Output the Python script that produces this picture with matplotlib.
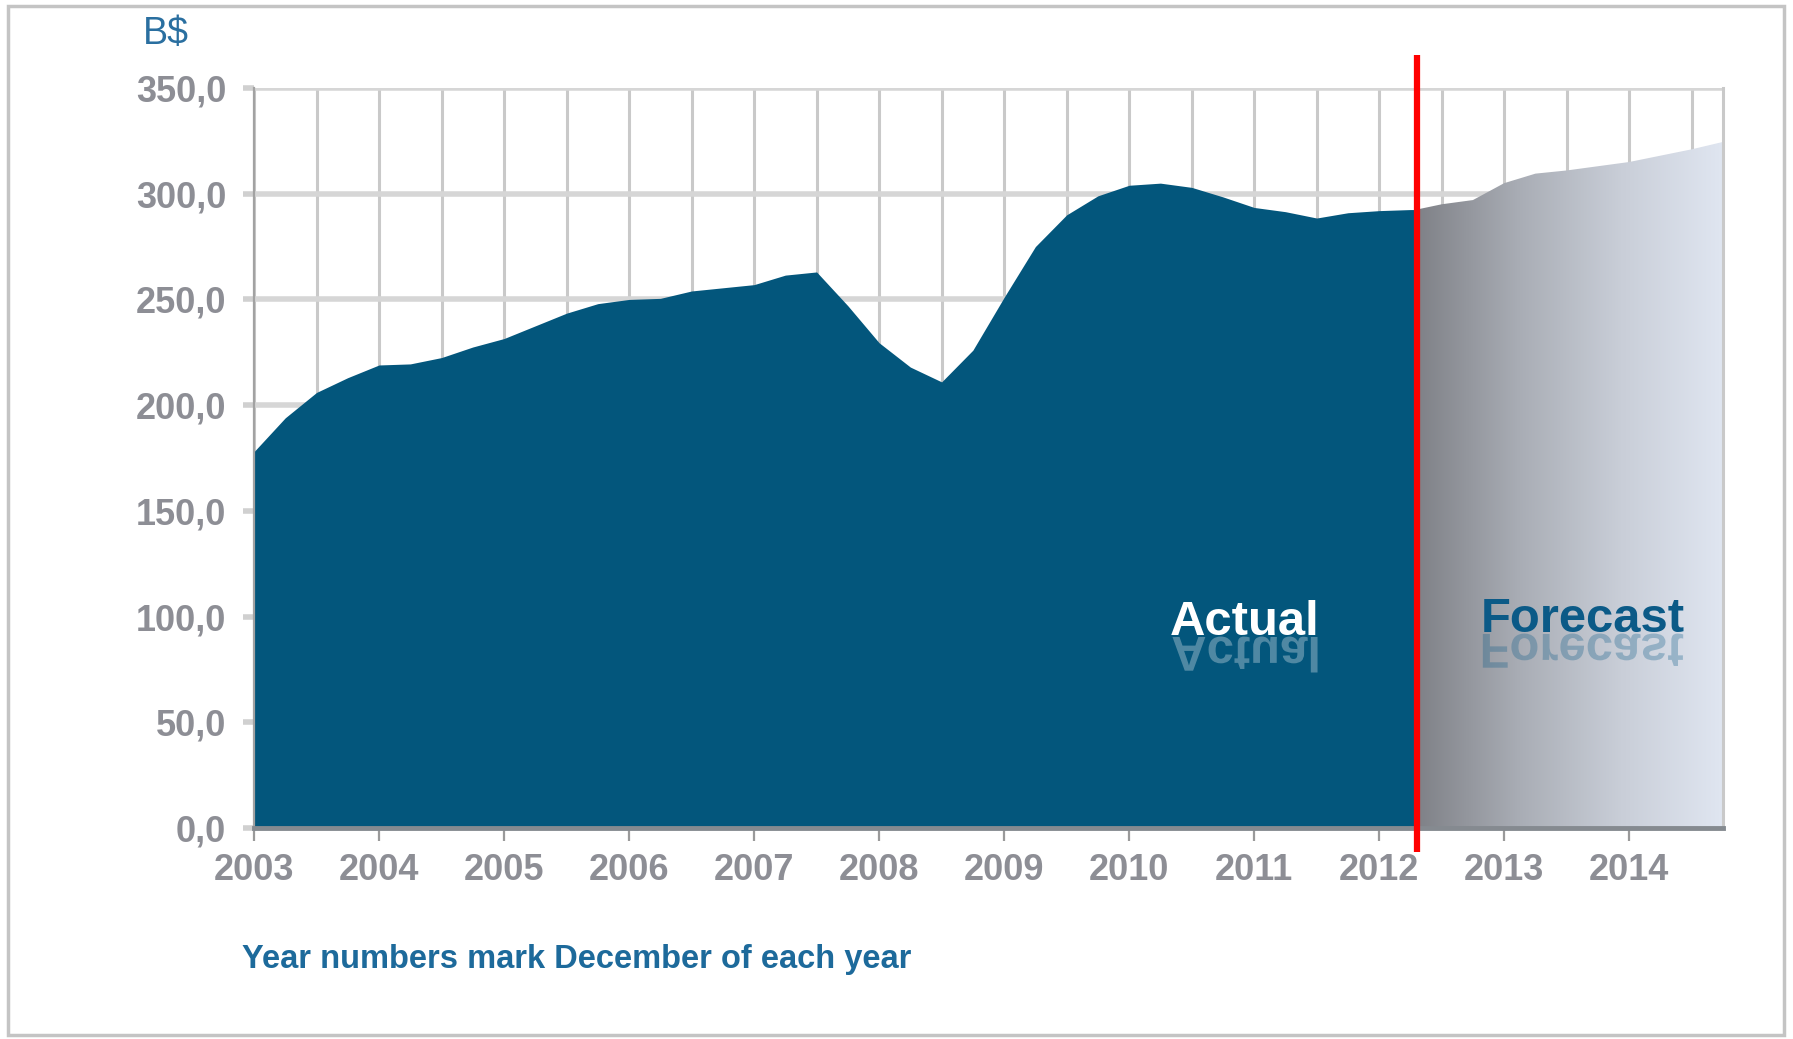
import matplotlib
matplotlib.use("Agg")
import matplotlib.pyplot as plt
import numpy as np
from matplotlib.colors import LinearSegmentedColormap
from matplotlib.font_manager import FontProperties
from matplotlib.patches import PathPatch, Rectangle
from matplotlib.textpath import TextPath
from matplotlib.transforms import Affine2D, blended_transform_factory

plt.rcParams["font.family"] = ["Liberation Sans", "DejaVu Sans"]

# Actual values (B$), quarterly, year numbers mark December
actual_x = [2003.0, 2003.25, 2003.5, 2003.75, 2004.0, 2004.25, 2004.5, 2004.75,
            2005.0, 2005.25, 2005.5, 2005.75, 2006.0, 2006.25, 2006.5, 2006.75,
            2007.0, 2007.25, 2007.5, 2007.75, 2008.0, 2008.25, 2008.5, 2008.75,
            2009.0, 2009.25, 2009.5, 2009.75, 2010.0, 2010.25, 2010.5, 2010.75,
            2011.0, 2011.25, 2011.5, 2011.75, 2012.0, 2012.25, 2012.3]
actual_y = [178, 194, 206, 213, 219, 219.5, 222.5, 227.5,
            231.5, 237.5, 243.5, 248, 250, 250.5, 254, 255.5,
            257, 261.5, 263, 247, 229.5, 218, 211, 226,
            251, 275, 290, 299, 304, 305, 303, 298.5,
            293.5, 291.5, 288.5, 291, 292, 292.5, 292.5]

forecast_x = [2012.3, 2012.5, 2012.75, 2013.0, 2013.25, 2013.5, 2013.75,
              2014.0, 2014.25, 2014.5, 2014.75]
forecast_y = [292.5, 295, 297, 305, 309.5, 311, 313, 315, 318, 321, 324.5]

split_year = 2012.3
year_ticks = [2003, 2004, 2005, 2006, 2007, 2008, 2009, 2010, 2011, 2012, 2013, 2014]
y_ticks = [0, 50, 100, 150, 200, 250, 300, 350]
y_labels = ["0,0", "50,0", "100,0", "150,0", "200,0", "250,0", "300,0", "350,0"]

W, H = 1793, 1039
fig = plt.figure(figsize=(W / 100, H / 100), dpi=100)
fig.patch.set_facecolor("white")
ax = fig.add_axes([254 / W, 1 - 828 / H, (1723 - 254) / W, (828 - 88) / H])

ax.set_xlim(2003, 2014.75)
ax.set_ylim(0, 350)

# actual area
ax.fill_between(actual_x, actual_y, 0, color="#03567c", lw=0, zorder=2)

# forecast area with horizontal gradient
poly = ax.fill_between(forecast_x, forecast_y, 0, facecolor="none", lw=0, zorder=2)
cmap = LinearSegmentedColormap.from_list("fc", ["#7f8187", "#a9adb5", "#c9ced8", "#e0e6f1"])
grad = np.linspace(0, 1, 256).reshape(1, -1)
im = ax.imshow(grad, cmap=cmap, aspect="auto", extent=[split_year, 2014.75, 0, 350],
               origin="lower", zorder=2, interpolation="bilinear")
im.set_clip_path(poly.get_paths()[0], ax.transData)

# grid
ax.set_axisbelow(True)
ax.set_yticks(y_ticks)
ax.set_yticklabels(y_labels)
ax.set_xticks(year_ticks)
ax.set_xticklabels([str(y) for y in year_ticks])
ax.set_xticks([y + 0.5 for y in year_ticks], minor=True)
ax.grid(axis="y", color="#d6d6d6", lw=4)
ax.grid(axis="x", which="both", color="#c9c9c9", lw=2.2)

label_color = "#8d8e95"
ax.tick_params(axis="y", which="major", direction="out", length=8, width=4,
               color="#d0d0d0", pad=12, labelsize=26, labelcolor=label_color)
ax.tick_params(axis="x", which="major", direction="out", length=9, width=1.6,
               color="#9a9a9a", pad=9, labelsize=26, labelcolor=label_color)
ax.tick_params(axis="x", which="minor", length=0)
for lab in ax.get_xticklabels() + ax.get_yticklabels():
    lab.set_fontweight("bold")

ax.spines["top"].set_visible(False)
ax.spines["right"].set_color("#c9c9c9")
ax.spines["right"].set_linewidth(2.2)
ax.spines["left"].set_color("#a2a2a2")
ax.spines["left"].set_linewidth(1.6)
ax.spines["bottom"].set_color("#858a90")
ax.spines["bottom"].set_linewidth(3.5)
ax.spines["bottom"].set_zorder(3)

# red split line
bt = blended_transform_factory(ax.transData, ax.transAxes)
ax.plot([split_year, split_year], [-0.032, 1.045], color="#ff0000", lw=4.5,
        transform=bt, clip_on=False, zorder=5, solid_capstyle="butt")

# texts
fig.text(143 / W, 1 - 34 / H, "B$", color="#2a6fa0", fontsize=27, va="center",
         ha="left")
fig.text(242 / W, 1 - 968 / H, "Year numbers mark December of each year",
         color="#1d6a9b", fontsize=23.5, fontweight="bold", va="baseline", ha="left")

label_px = 49
fp = FontProperties(family="Liberation Sans", weight="bold")


def reflected_label(text, cx, base_y, color, refl_alpha):
    yb = H - base_y
    fig.text(cx / W, yb / H, text, color=color, fontsize=label_px * 0.72,
             fontweight="bold", ha="center", va="baseline", zorder=6)
    # mirrored copy under the baseline
    tp = TextPath((0, 0), text, size=label_px, prop=fp)
    bb = tp.get_extents()
    off = -(bb.x0 + bb.x1) / 2
    mirror = Affine2D().translate(off, 0).scale(1, -1).translate(cx, yb - 2)
    fig.add_artist(PathPatch(tp, transform=mirror, fc=color, ec="none",
                             alpha=refl_alpha, zorder=6))


reflected_label("Actual", 1245, 635, "white", 0.3)
reflected_label("Forecast", 1583, 632, "#0b5a87", 0.3)

# outer frame
fig.add_artist(Rectangle((8 / W, 4 / H), (1784 - 8) / W, (1033 - 4) / H,
                         transform=fig.transFigure, fill=False,
                         edgecolor="#c4c4c4", lw=2.5))

fig.savefig("out.png", dpi=100, facecolor="white")
